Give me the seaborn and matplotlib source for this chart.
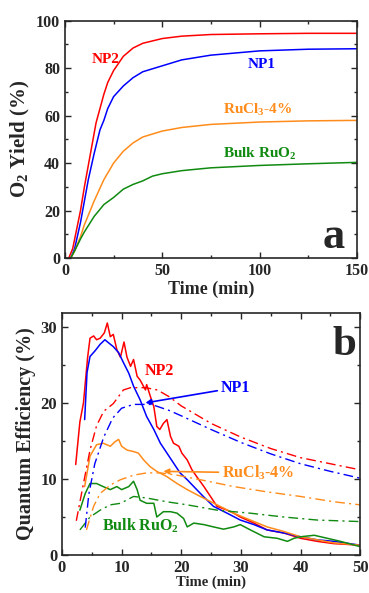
import matplotlib
matplotlib.use('Agg')
import matplotlib.pyplot as plt
from matplotlib.ticker import MultipleLocator
import pandas as pd
import seaborn as sns

# ---- panel a: O2 yield vs time ----
t_np2 = [2, 4, 6, 8, 10, 12, 14, 16, 18, 20, 22, 25, 30, 35, 40, 50, 60, 75, 100, 125, 150]
y_np2 = [0, 4, 12, 20, 30, 39, 48, 57, 63, 69, 74, 79, 85, 88.5, 90.5, 92.5, 93.5, 94.2, 94.5, 94.7, 94.7]
t_np1 = [3, 5, 8, 10, 12, 15, 18, 20, 22, 25, 30, 35, 40, 50, 60, 75, 100, 125, 150]
y_np1 = [0, 4, 15, 24, 33, 44, 54, 58, 63, 68, 72.5, 76, 78.5, 81, 83.5, 85.5, 87.3, 88, 88.2]
t_rucl = [3, 5, 8, 10, 15, 20, 25, 30, 35, 40, 50, 60, 75, 100, 125, 150]
y_rucl = [0, 3, 9, 14, 24, 33, 40, 45, 48.5, 51, 53.5, 55, 56.3, 57.3, 57.8, 58]
t_bulk = [3, 5, 8, 10, 15, 20, 25, 30, 35, 40, 45, 50, 60, 75, 100, 125, 150]
y_bulk = [0, 3, 8, 11, 17.5, 22.5, 25.5, 29, 31, 32.5, 34.5, 35.5, 36.8, 38, 39, 39.7, 40.3]

# ---- panel b: quantum efficiency, solid (instant) ----
qt_np2 = [2.3, 3.0, 3.6, 4.3, 4.7, 5.3, 5.8, 6.4, 7.1, 7.6, 8.1, 8.6, 9.2, 9.8, 10.4, 10.9,
          11.5, 12.0, 12.6, 13.1, 14.0, 14.2, 14.8, 15.4, 15.9, 16.4, 17.0, 17.6, 18.2, 18.7,
          19.6, 20.1, 21.0, 21.8, 22.6, 23.8, 24.9, 26.0, 27.7, 28.8, 29.9, 32.2, 34.4, 37.2,
          40.0, 42.8, 45.6, 50.0]
qe_np2 = [11.9, 17.5, 20.0, 26.0, 28.5, 28.8, 28.3, 28.5, 29.2, 30.5, 28.7, 29.0, 27.0, 26.0,
          28.0, 26.0, 24.8, 25.7, 23.5, 23.0, 21.7, 22.4, 20.9, 19.5, 16.9, 16.5, 17.3, 17.8,
          15.6, 14.7, 14.3, 13.4, 12.5, 11.2, 10.3, 9.0, 7.7, 6.4, 5.9, 5.5, 5.0, 4.2, 3.3, 2.9,
          2.2, 1.8, 1.5, 1.3]
qt_np1 = [3.8, 4.2, 4.7, 5.5, 6.4, 7.2, 7.8, 8.6, 9.5, 10.3, 11.2, 12.0, 13.1, 14.2, 15.4,
          16.5, 17.6, 18.7, 19.8, 21.0, 22.1, 23.7, 25.4, 27.7, 29.9, 32.2, 34.4, 37.2, 40.0,
          42.8, 45.6, 50.0]
qe_np1 = [17.8, 24.0, 26.1, 26.8, 27.7, 28.3, 27.9, 27.4, 26.6, 25.3, 23.9, 22.2, 20.4, 18.2,
          16.5, 14.7, 13.4, 12.1, 10.8, 9.9, 9.0, 7.7, 6.4, 5.5, 4.6, 4.0, 3.3, 2.9, 2.4, 2.0,
          1.8, 1.3]
qt_rucl = [3.8, 4.7, 5.8, 6.9, 8.1, 8.9, 9.5, 10.0, 10.9, 12.0, 12.8, 13.7, 14.8, 15.9, 17.6,
           19.3, 21.0, 23.2, 26.0, 28.8, 31.6, 34.4, 37.2, 40.0, 42.8, 45.6, 50.0]
qe_rucl = [9.0, 13.0, 14.5, 14.7, 14.3, 14.9, 15.2, 14.3, 13.8, 13.6, 13.4, 12.5, 11.6, 11.0,
           10.3, 9.4, 8.6, 7.7, 6.6, 5.5, 4.6, 3.7, 3.1, 2.4, 2.0, 1.6, 1.3]
qt_bulk = [3.0, 3.9, 4.7, 5.8, 6.9, 8.1, 9.2, 10.0, 11.2, 12.0, 12.6, 13.1, 14.2, 15.4, 15.9,
           17.0, 18.2, 19.3, 20.4, 21.0, 22.1, 23.8, 25.4, 27.1, 28.8, 29.9, 31.6, 33.9, 36.1,
           37.8, 38.9, 40.0, 42.3, 44.5, 46.7, 50.0]
qe_bulk = [5.9, 8.1, 9.4, 9.4, 9.0, 8.6, 9.0, 8.6, 9.0, 9.7, 8.6, 7.2, 6.8, 6.8, 5.0, 5.7, 5.7,
           5.5, 4.8, 3.7, 4.2, 4.0, 3.7, 3.4, 3.7, 4.0, 3.3, 2.4, 2.2, 1.8, 2.2, 2.4, 2.6, 2.2,
           1.8, 1.1]

# ---- panel b: quantum efficiency, dash-dot (average) ----
at_np2 = [2.4, 3.6, 4.7, 5.8, 7.0, 8.6, 10.3, 11.5, 14.0, 16.0, 18.0, 20.0, 25, 30, 35, 40, 45, 50]
ae_np2 = [4.5, 9.4, 13.8, 17.0, 18.9, 19.9, 21.7, 22.0, 22.0, 21.7, 20.8, 19.6, 17.3, 15.5, 14.0,
          12.8, 12.0, 11.2]
at_np1 = [3.9, 4.5, 5.5, 7.0, 8.5, 10, 12, 15, 18, 20, 25, 30, 35, 40, 45, 50]
ae_np1 = [3.6, 8.0, 12.0, 15.5, 18.0, 19.3, 19.8, 19.8, 19.0, 18.3, 16.5, 14.8, 13.3, 12.0, 11.0, 10.1]
at_rucl = [4.1, 5.3, 6.4, 8.1, 9.8, 12.0, 14.2, 16.5, 19.3, 23.2, 28.8, 34.4, 40.0, 45.6, 50.0]
ae_rucl = [3.3, 6.4, 8.1, 9.2, 9.9, 10.5, 10.8, 10.8, 10.5, 9.9, 9.0, 8.3, 7.7, 7.0, 6.6]
at_bulk = [3.0, 4.7, 6.4, 8.1, 9.8, 12.0, 14.2, 17.6, 21.0, 26.0, 31.6, 37.2, 42.8, 50.0]
ae_bulk = [3.3, 5.0, 5.9, 6.6, 6.8, 7.7, 7.5, 7.0, 6.6, 5.9, 5.5, 5.0, 4.6, 4.4]

colors = {'NP2': '#ff0000', 'NP1': '#0000ff', 'RuCl3': '#ff8c1a', 'Bulk': '#108a10'}

sns.set_style('ticks')
plt.rcParams['font.family'] = ['Liberation Serif', 'DejaVu Serif']
plt.rcParams['font.weight'] = 'bold'
plt.rcParams['mathtext.fontset'] = 'custom'
plt.rcParams['mathtext.rm'] = 'Liberation Serif:bold'
plt.rcParams['mathtext.it'] = 'Liberation Serif:bold'
plt.rcParams['mathtext.bf'] = 'Liberation Serif:bold'


def frame(pairs):
    parts = []
    for name, xs, ys in pairs:
        parts.append(pd.DataFrame({'t': xs, 'v': ys, 'sample': name}))
    return pd.concat(parts, ignore_index=True)


def style_axes(ax, size):
    ax.tick_params(which='both', direction='in', top=True, right=True,
                   labelsize=size, width=1)
    ax.tick_params(which='major', length=4)
    ax.tick_params(which='minor', length=2.5)
    for s in ax.spines.values():
        s.set_linewidth(1.2)
    for lab in ax.get_xticklabels() + ax.get_yticklabels():
        lab.set_fontweight('bold')


fig = plt.figure(figsize=(3.69, 5.93), dpi=100)
ax1 = fig.add_axes([0.176, 0.565, 0.791, 0.400])
ax2 = fig.add_axes([0.168, 0.064, 0.808, 0.408])

# panel a
df_a = frame([('NP2', t_np2, y_np2), ('NP1', t_np1, y_np1),
              ('RuCl3', t_rucl, y_rucl), ('Bulk', t_bulk, y_bulk)])
sns.lineplot(data=df_a, x='t', y='v', hue='sample', palette=colors,
             linewidth=1.1, legend=False, ax=ax1, sort=False)
ax1.set_xlim(0, 150)
ax1.set_ylim(0, 100)
ax1.xaxis.set_major_locator(MultipleLocator(50))
ax1.xaxis.set_minor_locator(MultipleLocator(25))
ax1.yaxis.set_major_locator(MultipleLocator(20))
ax1.yaxis.set_minor_locator(MultipleLocator(10))
ax1.set_xlabel('Time (min)', fontsize=13, fontweight='bold', labelpad=1)
ax1.set_ylabel('O$_2$ Yield (%)', fontsize=15, fontweight='bold', labelpad=3)
style_axes(ax1, 11.5)
tk = dict(fontsize=11, fontweight='bold', ha='center', va='center')
ax1.text(21, 83.5, 'NP2', color=colors['NP2'], **tk)
ax1.text(101, 81.5, 'NP1', color=colors['NP1'], **tk)
ax1.text(99, 62.5, 'RuCl$_3$-4%', color=colors['RuCl3'], **tk)
ax1.text(100, 44, 'Bulk RuO$_2$', color=colors['Bulk'], **tk)
ax1.text(138, 9, 'a', fontsize=32, fontweight='bold', ha='center', va='center')

# panel b
df_b = frame([('NP2', qt_np2, qe_np2), ('NP1', qt_np1, qe_np1),
              ('RuCl3', qt_rucl, qe_rucl), ('Bulk', qt_bulk, qe_bulk)])
df_c = frame([('NP2', at_np2, ae_np2), ('NP1', at_np1, ae_np1),
              ('RuCl3', at_rucl, ae_rucl), ('Bulk', at_bulk, ae_bulk)])
sns.lineplot(data=df_b, x='t', y='v', hue='sample', palette=colors,
             linewidth=1.1, legend=False, ax=ax2, sort=False)
for name, g in df_c.groupby('sample'):
    ax2.plot(g['t'], g['v'], color=colors[name], linewidth=1.0,
             dashes=(7, 3, 1.5, 3))
ax2.set_xlim(0, 50)
ax2.set_ylim(0, 31.8)
ax2.xaxis.set_major_locator(MultipleLocator(10))
ax2.xaxis.set_minor_locator(MultipleLocator(5))
ax2.yaxis.set_major_locator(MultipleLocator(10))
ax2.yaxis.set_minor_locator(MultipleLocator(5))
ax2.set_xlabel('Time (min)', fontsize=10.5, fontweight='bold', labelpad=0)
ax2.set_ylabel('Quantum Efficiency (%)', fontsize=14.5, fontweight='bold', labelpad=3)
style_axes(ax2, 12)
tk = dict(fontsize=11.5, fontweight='bold', ha='center', va='center')
ax2.text(16.4, 24.2, 'NP2', color=colors['NP2'], **tk)
ax2.annotate('NP1', xy=(14, 20), xytext=(26.6, 22), color=colors['NP1'],
             fontsize=11.5, fontweight='bold', ha='left', va='center',
             arrowprops=dict(arrowstyle='-|>', color=colors['NP1'], lw=1.2,
                             mutation_scale=8, shrinkA=0, shrinkB=0))
ax2.annotate('RuCl$_3$-4%', xy=(17, 11), xytext=(26.8, 10.8), color=colors['RuCl3'],
             fontsize=11.5, fontweight='bold', ha='left', va='center',
             arrowprops=dict(arrowstyle='-|>', color=colors['RuCl3'], lw=1.2,
                             mutation_scale=8, shrinkA=0, shrinkB=0))
ax2.text(13.2, 3.9, 'Bulk RuO$_2$', color=colors['Bulk'], **tk)
ax2.text(47.3, 27.6, 'b', fontsize=31, fontweight='bold', ha='center', va='center')

fig.savefig('out.png', dpi=100)
